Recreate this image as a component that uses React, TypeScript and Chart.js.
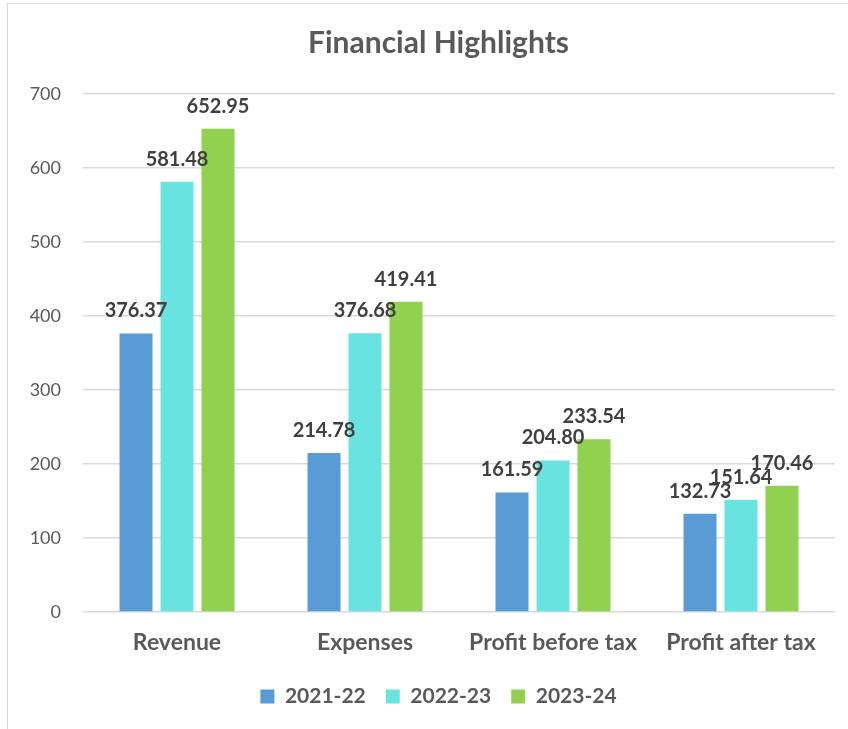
import React, { useEffect, useRef } from "react";
import { Chart, registerables } from "chart.js";

Chart.register(...registerables);

const categories = ["Revenue", "Expenses", "Profit before tax", "Profit after tax"];
const seriesNames = ["2021-22", "2022-23", "2023-24"];
const values2122 = [376.37, 214.78, 161.59, 132.73];
const values2223 = [581.48, 376.68, 204.8, 151.64];
const values2324 = [652.95, 419.41, 233.54, 170.46];
const seriesColors = ["#5B9BD5", "#69E3DF", "#92D050"];
const yMin = 0;
const yMax = 700;
const yStep = 100;

const FONT = "Lato, 'Open Sans', sans-serif";

const barLabelPlugin = {
  id: "barLabels",
  afterLayout(chart: any) {
    // let the y tick labels use the space left of the layout padding
    if (chart.scales.y) chart.scales.y.left = 0;
  },
  afterDatasetsDraw(chart: any) {
    const ctx = chart.ctx;
    ctx.save();
    ctx.font = `bold 20px ${FONT}`;
    ctx.fillStyle = "#404040";
    ctx.textAlign = "center";
    ctx.textBaseline = "alphabetic";
    chart.data.datasets.forEach((ds: any, i: number) => {
      const meta = chart.getDatasetMeta(i);
      meta.data.forEach((bar: any, j: number) => {
        const v = ds.data[j] as number;
        ctx.fillText(v.toFixed(2), bar.x, bar.y - 16);
      });
    });
    ctx.restore();
  },
};

export default function App() {
  const canvasRef = useRef<HTMLCanvasElement | null>(null);

  useEffect(() => {
    if (!canvasRef.current) return;
    const seriesValues = [values2122, values2223, values2324];
    const chart = new Chart(canvasRef.current, {
      type: "bar",
      data: {
        labels: categories,
        datasets: seriesNames.map((name, i) => ({
          label: name,
          data: seriesValues[i],
          backgroundColor: seriesColors[i],
          borderWidth: 0,
          categoryPercentage: 0.654,
          barPercentage: 0.805,
        })),
      },
      options: {
        animation: false,
        responsive: true,
        maintainAspectRatio: false,
        layout: { padding: { left: 34, right: 14, top: 0, bottom: 13 } },
        plugins: {
          title: {
            display: true,
            text: "Financial Highlights",
            color: "#595959",
            font: { family: FONT, size: 30, weight: "bold" },
            padding: { top: 21, bottom: 33 },
          },
          legend: {
            display: true,
            position: "bottom",
            labels: {
              boxWidth: 14,
              boxHeight: 14,
              padding: 20,
              color: "#595959",
              font: { family: FONT, size: 21, weight: "bold" },
            },
          },
          tooltip: { enabled: false },
        },
        scales: {
          x: {
            grid: { display: false, drawTicks: false },
            border: { display: false },
            ticks: {
              color: "#595959",
              padding: 17,
              font: { family: FONT, size: 23, weight: "bold" },
              maxRotation: 0,
              autoSkip: false,
            },
            afterFit: (scale: any) => {
              scale.height = 54;
            },
          },
          y: {
            min: yMin,
            max: yMax,
            ticks: {
              stepSize: yStep,
              color: "#595959",
              padding: 22,
              font: { family: FONT, size: 18 },
            },
            grid: { color: "#d9d9d9", lineWidth: 1.5, drawTicks: false, tickLength: 0 },
            border: { display: false },
            afterFit: (scale: any) => {
              scale.width = 41;
            },
          },
        },
      },
      plugins: [barLabelPlugin],
    });
    return () => chart.destroy();
  }, []);

  return (
    <div
      style={{
        position: "fixed",
        left: 7,
        top: 3,
        width: 900,
        height: 800,
        border: "1px solid #d9d9d9",
        background: "#ffffff",
        overflow: "hidden",
      }}
    >
      <div style={{ position: "relative", width: 841, height: 726 }}>
        <canvas ref={canvasRef} />
      </div>
    </div>
  );
}
